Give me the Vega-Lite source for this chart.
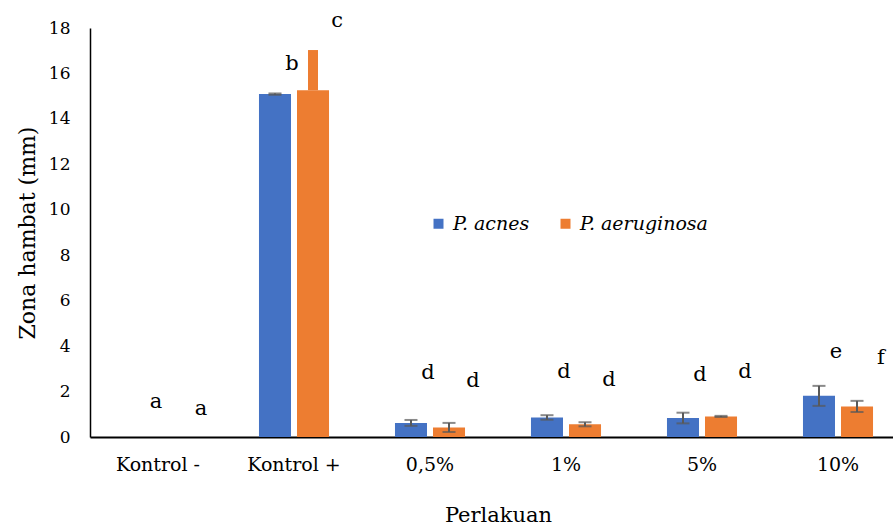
{
  "$schema": "https://vega.github.io/schema/vega-lite/v6.json",
  "autosize": "none",
  "width": 816,
  "height": 409,
  "padding": {"left": 90, "top": 28, "right": 10, "bottom": 90},
  "background": "white",
  "config": {
    "view": {"stroke": null},
    "font": "DejaVu Serif",
    "axisY": {"labelOverlap": false, "tickCount": 18}
  },
  "data": {
    "values": [
      {"perlakuan": "Kontrol -", "bakteri": "P. acnes", "nilai": 0, "bawah": null, "atas": null, "huruf": "a", "huruf_y": 1.56, "puncak": null},
      {"perlakuan": "Kontrol -", "bakteri": "P. aeruginosa", "nilai": 0, "bawah": null, "atas": null, "huruf": "a", "huruf_y": 1.23, "puncak": null},
      {"perlakuan": "Kontrol +", "bakteri": "P. acnes", "nilai": 15.09, "bawah": 15.06, "atas": 15.12, "huruf": "b", "huruf_y": 16.4, "puncak": null},
      {"perlakuan": "Kontrol +", "bakteri": "P. aeruginosa", "nilai": 15.26, "bawah": null, "atas": null, "huruf": "c", "huruf_y": 18.3, "puncak": 17.03},
      {"perlakuan": "0,5%", "bakteri": "P. acnes", "nilai": 0.62, "bawah": 0.49, "atas": 0.75, "huruf": "d", "huruf_y": 2.82, "puncak": null},
      {"perlakuan": "0,5%", "bakteri": "P. aeruginosa", "nilai": 0.42, "bawah": 0.22, "atas": 0.62, "huruf": "d", "huruf_y": 2.48, "puncak": null},
      {"perlakuan": "1%", "bakteri": "P. acnes", "nilai": 0.86, "bawah": 0.76, "atas": 0.96, "huruf": "d", "huruf_y": 2.85, "puncak": null},
      {"perlakuan": "1%", "bakteri": "P. aeruginosa", "nilai": 0.56, "bawah": 0.47, "atas": 0.65, "huruf": "d", "huruf_y": 2.5, "puncak": null},
      {"perlakuan": "5%", "bakteri": "P. acnes", "nilai": 0.84, "bawah": 0.6, "atas": 1.07, "huruf": "d", "huruf_y": 2.73, "puncak": null},
      {"perlakuan": "5%", "bakteri": "P. aeruginosa", "nilai": 0.9, "bawah": 0.88, "atas": 0.93, "huruf": "d", "huruf_y": 2.87, "puncak": null},
      {"perlakuan": "10%", "bakteri": "P. acnes", "nilai": 1.81, "bawah": 1.37, "atas": 2.25, "huruf": "e", "huruf_y": 3.76, "puncak": null},
      {"perlakuan": "10%", "bakteri": "P. aeruginosa", "nilai": 1.34, "bawah": 1.1, "atas": 1.59, "huruf": "f", "huruf_y": 3.48, "puncak": null}
    ]
  },
  "encoding": {
    "x": {
      "field": "perlakuan", "type": "nominal",
      "sort": ["Kontrol -", "Kontrol +", "0,5%", "1%", "5%", "10%"],
      "scale": {"paddingInner": 0.485, "paddingOuter": 0.2425},
      "axis": {"title": "Perlakuan", "labelAngle": 0, "grid": false, "ticks": false, "domainColor": "#000000", "labelColor": "#000000", "titleColor": "#000000", "titleFontWeight": "normal", "labelFont": "DejaVu Serif", "titleFont": "DejaVu Serif", "labelFontSize": 19, "labelPadding": 18, "titleFontSize": 21, "titlePadding": 30, "domainWidth": 2}
    },
    "xOffset": {
      "field": "bakteri", "type": "nominal",
      "scale": {"domain": ["P. acnes", "P. aeruginosa"], "paddingInner": 0.158, "paddingOuter": 0}
    }
  },
  "layer": [
    {
      "mark": {"type": "bar"},
      "encoding": {
        "y": {
          "field": "nilai", "type": "quantitative",
          "scale": {"domain": [0, 18], "nice": false},
          "axis": {"title": "Zona hambat (mm)", "values": [0,1,2,3,4,5,6,7,8,9,10,11,12,13,14,15,16,17,18], "tickCount": 18, "grid": false, "ticks": false, "labelOverlap": false, "domainColor": "#000000", "labelColor": "#000000", "titleColor": "#000000", "titleFontWeight": "normal", "labelFont": "DejaVu Serif", "titleFont": "DejaVu Serif", "labelFontSize": 17, "labelPadding": 20, "titleFontSize": 22, "titlePadding": 9, "domainWidth": 1.5}
        },
        "color": {
          "field": "bakteri", "type": "nominal",
          "scale": {"domain": ["P. acnes", "P. aeruginosa"], "range": ["#4472C4", "#ED7D31"]},
          "legend": {
            "title": null, "orient": "none", "legendX": 339, "legendY": 186, "direction": "horizontal",
            "symbolType": "square", "symbolSize": 100, "symbolStrokeWidth": 0,
            "labelFont": "DejaVu Serif", "labelFontStyle": "italic", "labelFontSize": 19, "labelColor": "#000000",
            "labelOffset": 5, "columnPadding": 26
          }
        }
      }
    },
    {
      "transform": [{"filter": "datum.puncak != null"}],
      "mark": {"type": "bar", "width": 10, "xOffset": 11, "color": "#ED7D31"},
      "encoding": {
        "y": {"field": "nilai", "type": "quantitative", "axis": {"title": "Zona hambat (mm)", "values": [0,1,2,3,4,5,6,7,8,9,10,11,12,13,14,15,16,17,18], "tickCount": 18, "grid": false, "ticks": false, "labelOverlap": false, "domainColor": "#000000", "labelColor": "#000000", "titleColor": "#000000", "titleFontWeight": "normal", "labelFont": "DejaVu Serif", "titleFont": "DejaVu Serif", "labelFontSize": 17, "labelPadding": 20, "titleFontSize": 22, "titlePadding": 9, "domainWidth": 1.5}},
        "y2": {"field": "puncak"}
      }
    },
    {
      "transform": [{"filter": "datum.atas != null"}],
      "mark": {"type": "rule", "color": "#595959", "strokeWidth": 2},
      "encoding": {
        "y": {"field": "bawah", "type": "quantitative", "axis": {"title": "Zona hambat (mm)", "values": [0,1,2,3,4,5,6,7,8,9,10,11,12,13,14,15,16,17,18], "tickCount": 18, "grid": false, "ticks": false, "labelOverlap": false, "domainColor": "#000000", "labelColor": "#000000", "titleColor": "#000000", "titleFontWeight": "normal", "labelFont": "DejaVu Serif", "titleFont": "DejaVu Serif", "labelFontSize": 17, "labelPadding": 20, "titleFontSize": 22, "titlePadding": 9, "domainWidth": 1.5}},
        "y2": {"field": "atas"}
      }
    },
    {
      "transform": [{"filter": "datum.atas != null"}],
      "mark": {"type": "tick", "color": "#595959", "size": 13, "thickness": 2, "orient": "horizontal"},
      "encoding": {
        "y": {"field": "atas", "type": "quantitative", "axis": {"title": "Zona hambat (mm)", "values": [0,1,2,3,4,5,6,7,8,9,10,11,12,13,14,15,16,17,18], "tickCount": 18, "grid": false, "ticks": false, "labelOverlap": false, "domainColor": "#000000", "labelColor": "#000000", "titleColor": "#000000", "titleFontWeight": "normal", "labelFont": "DejaVu Serif", "titleFont": "DejaVu Serif", "labelFontSize": 17, "labelPadding": 20, "titleFontSize": 22, "titlePadding": 9, "domainWidth": 1.5}}
      }
    },
    {
      "transform": [{"filter": "datum.atas != null"}],
      "mark": {"type": "tick", "color": "#595959", "size": 13, "thickness": 2, "orient": "horizontal"},
      "encoding": {
        "y": {"field": "bawah", "type": "quantitative", "axis": {"title": "Zona hambat (mm)", "values": [0,1,2,3,4,5,6,7,8,9,10,11,12,13,14,15,16,17,18], "tickCount": 18, "grid": false, "ticks": false, "labelOverlap": false, "domainColor": "#000000", "labelColor": "#000000", "titleColor": "#000000", "titleFontWeight": "normal", "labelFont": "DejaVu Serif", "titleFont": "DejaVu Serif", "labelFontSize": 17, "labelPadding": 20, "titleFontSize": 22, "titlePadding": 9, "domainWidth": 1.5}}
      }
    },
    {
      "transform": [{"filter": "datum.bakteri == 'P. acnes'"}],
      "mark": {"type": "text", "font": "DejaVu Serif", "fontSize": 21, "color": "#000000", "baseline": "middle", "dx": 17, "clip": false},
      "encoding": {
        "y": {"field": "huruf_y", "type": "quantitative", "axis": {"title": "Zona hambat (mm)", "values": [0,1,2,3,4,5,6,7,8,9,10,11,12,13,14,15,16,17,18], "tickCount": 18, "grid": false, "ticks": false, "labelOverlap": false, "domainColor": "#000000", "labelColor": "#000000", "titleColor": "#000000", "titleFontWeight": "normal", "labelFont": "DejaVu Serif", "titleFont": "DejaVu Serif", "labelFontSize": 17, "labelPadding": 20, "titleFontSize": 22, "titlePadding": 9, "domainWidth": 1.5}},
        "text": {"field": "huruf"}
      }
    },
    {
      "transform": [{"filter": "datum.bakteri == 'P. aeruginosa'"}],
      "mark": {"type": "text", "font": "DejaVu Serif", "fontSize": 21, "color": "#000000", "baseline": "middle", "dx": 24, "clip": false},
      "encoding": {
        "y": {"field": "huruf_y", "type": "quantitative", "axis": {"title": "Zona hambat (mm)", "values": [0,1,2,3,4,5,6,7,8,9,10,11,12,13,14,15,16,17,18], "tickCount": 18, "grid": false, "ticks": false, "labelOverlap": false, "domainColor": "#000000", "labelColor": "#000000", "titleColor": "#000000", "titleFontWeight": "normal", "labelFont": "DejaVu Serif", "titleFont": "DejaVu Serif", "labelFontSize": 17, "labelPadding": 20, "titleFontSize": 22, "titlePadding": 9, "domainWidth": 1.5}},
        "text": {"field": "huruf"}
      }
    }
  ]
}
